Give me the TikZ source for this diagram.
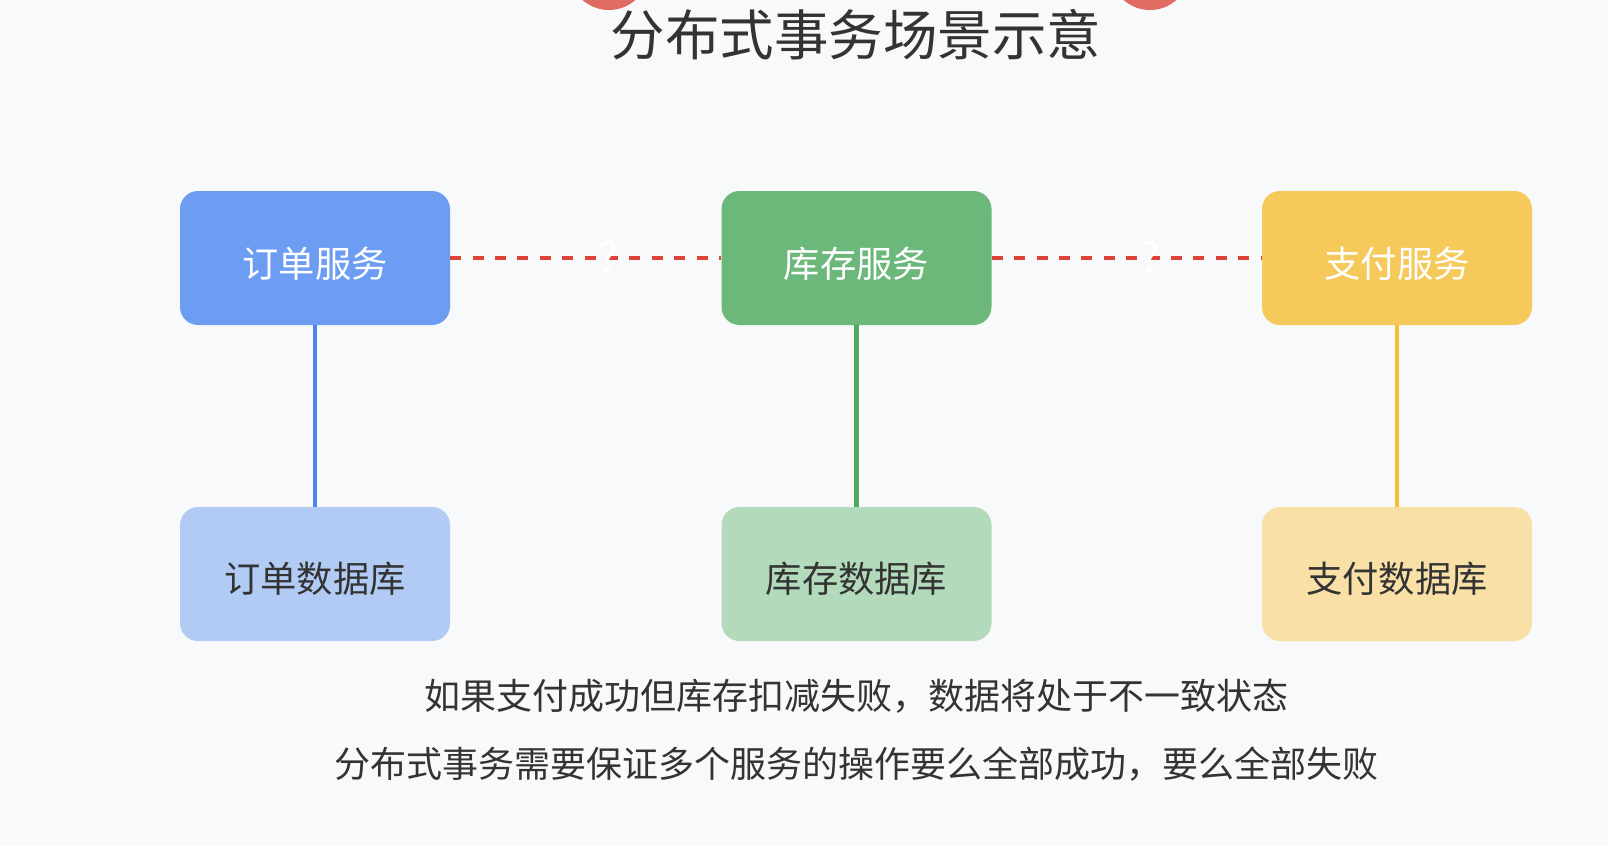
\documentclass[tikz,border=0pt]{standalone}
\usepackage{fontspec}
\newfontfamily\cjk{Noto Sans CJK SC}
\definecolor{bgc}{HTML}{F8F9FA}
\definecolor{txt}{HTML}{333333}
\definecolor{blueA}{HTML}{6C9DF2}
\definecolor{blueL}{HTML}{4A86E8}
\definecolor{blueB}{HTML}{B2CBF5}
\definecolor{greenA}{HTML}{6BB87A}
\definecolor{greenL}{HTML}{4FA95E}
\definecolor{greenB}{HTML}{B3DABB}
\definecolor{yelA}{HTML}{F6C95B}
\definecolor{yelL}{HTML}{F6BC35}
\definecolor{yelB}{HTML}{F8E0A7}
\definecolor{redD}{HTML}{DB4437}
\definecolor{redC}{HTML}{E06B62}
\begin{document}
\begin{tikzpicture}[x=1pt,y=-1pt,
  box/.style={rectangle, rounded corners=18pt, minimum width=270pt, minimum height=134pt, inner sep=0pt},
  lbl/.style={inner sep=0pt, font=\cjk\fontsize{36.3}{40}\selectfont},
  vline/.style={line width=4.2pt},
  dashline/.style={draw=redD, line width=4.2pt, dash pattern=on 11pt off 11.4pt},
  qmark/.style={text=white, font=\cjk\fontsize{41}{44}\selectfont, inner sep=0pt},
  dot/.style={circle, fill=redC, minimum size=80pt, inner sep=0pt},
  caption/.style={text=txt, font=\cjk\fontsize{36}{40}\selectfont, inner sep=0pt}
]
\fill[bgc] (0,0) rectangle (1608,846);
\useasboundingbox (0,0) rectangle (1608,846);

\node[dot] (c1) at (609,-30) {};
\node[dot] (c2) at (1150,-30) {};

\node[text=txt, font=\cjk\fontsize{54.5}{62}\selectfont, inner sep=0pt] (title) at (856,35) {分布式事务场景示意};

\node[box, fill=blueA] (o) at (315,258) {};
\node[box, fill=greenA] (s) at (856.5,258) {};
\node[box, fill=yelA] (p) at (1397,258) {};

\node[box, fill=blueB] (od) at (315,574) {};
\node[box, fill=greenB] (sd) at (856.5,574) {};
\node[box, fill=yelB] (pd) at (1397,574) {};

\node[lbl, text=white] (ot) at ([yshift=-6pt]o.center) {订单服务};
\node[lbl, text=white] (st) at ([yshift=-6pt]s.center) {库存服务};
\node[lbl, text=white] (pt) at ([yshift=-6pt]p.center) {支付服务};
\node[lbl, text=txt] (odt) at ([yshift=-5pt]od.center) {订单数据库};
\node[lbl, text=txt] (sdt) at ([yshift=-5pt]sd.center) {库存数据库};
\node[lbl, text=txt] (pdt) at ([yshift=-5pt]pd.center) {支付数据库};

\draw[vline, blueL] (o.south) -- (od.north);
\draw[vline, greenL] (s.south) -- (sd.north);
\draw[vline, yelL] (p.south) -- (pd.north);

\draw[dashline] (o.east) -- (s.west);
\draw[dashline] (s.east) -- (p.west);

\node[qmark] (q1) at (608,257) {?};
\node[qmark] (q2) at (1150,257) {?};

\node[caption] (l1) at (856,696) {如果支付成功但库存扣减失败，数据将处于不一致状态};
\node[caption] (l2) at (856,764) {分布式事务需要保证多个服务的操作要么全部成功，要么全部失败};
\end{tikzpicture}
\end{document}
